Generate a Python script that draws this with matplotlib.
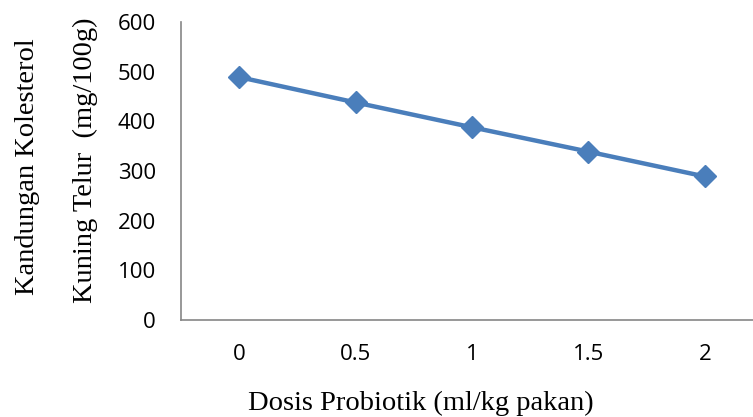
import matplotlib
matplotlib.use("Agg")
import matplotlib.pyplot as plt

# data
doses = ["0", "0.5", "1", "1.5", "2"]
cholesterol = [489, 438, 388, 339, 289]
y_ticks = [0, 100, 200, 300, 400, 500, 600]

blue = "#4a7ebb"
gray = "#868686"

fig = plt.figure(figsize=(7.53, 4.17), dpi=100)
ax = fig.add_axes([181 / 753, 1 - 320 / 417, 582 / 753, 298 / 417])

xs = range(len(doses))
ax.plot(xs, cholesterol, color=blue, linewidth=3.2, marker="D",
        markersize=11, markeredgecolor=blue, markerfacecolor=blue)

ax.set_xlim(-0.5, len(doses) - 0.5)
ax.set_ylim(0, 600)
ax.set_xticks(list(xs))
ax.set_xticklabels(doses)
ax.set_yticks(y_ticks)

for side in ["top", "right"]:
    ax.spines[side].set_visible(False)
for side in ["left", "bottom"]:
    ax.spines[side].set_color(gray)
    ax.spines[side].set_linewidth(1.2)

ax.tick_params(axis="both", length=0, labelsize=16, colors="black")
ax.tick_params(axis="x", pad=17)
ax.tick_params(axis="y", pad=18)
for lab in ax.get_xticklabels() + ax.get_yticklabels():
    lab.set_fontfamily("Open Sans")

fig.text(421 / 753, 1 - 403 / 417, "Dosis Probiotik (ml/kg pakan)",
         family="Liberation Serif", fontsize=20.5, ha="center", va="center")
fig.text(27 / 753, 1 - 167 / 417, "Kandungan Kolesterol",
         family="Liberation Serif", fontsize=20.5, ha="center", va="center",
         rotation=90)
fig.text(85 / 753, 1 - 160 / 417, "Kuning Telur  (mg/100g)",
         family="Liberation Serif", fontsize=20.5, ha="center", va="center",
         rotation=90)

fig.savefig("out.png", dpi=100)
